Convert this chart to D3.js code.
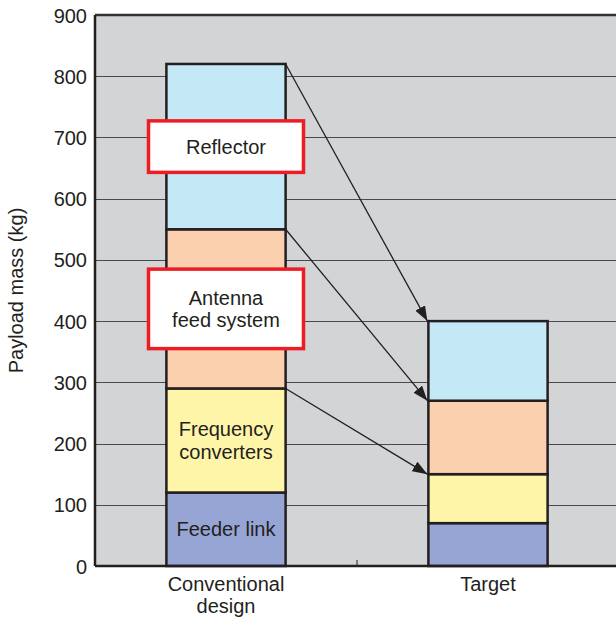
<!DOCTYPE html>
<html><head><meta charset="utf-8">
<script src="https://cdn.jsdelivr.net/npm/d3@7"></script>
<style>body{margin:0;background:#fff;}svg{display:block;font-family:"Liberation Sans",Arial,Helvetica,sans-serif;}</style>
</head><body>
<svg id="c" width="616" height="618"></svg>
<script>
const categories = ["Conventional design", "Target"];
const categoryLines = [["Conventional", "design"], ["Target"]];
const series = ["Feeder link", "Frequency converters", "Antenna feed system", "Reflector"];
const seriesLines = [["Feeder link"], ["Frequency", "converters"], ["Antenna", "feed system"], ["Reflector"]];
const conventionalValues = [120, 170, 260, 270];
const targetValues = [70, 80, 120, 130];
const seriesColors = ["#97a5d4", "#fff5a8", "#fbd0ae", "#c5e8f7"];
const boxedSeries = ["Antenna feed system", "Reflector"];
const yTicks = [0, 100, 200, 300, 400, 500, 600, 700, 800, 900];
const yLabel = "Payload mass (kg)";

const svg = d3.select("#c");
const m = {left: 95, top: 15, right: -3, bottom: 52};
const W = 616 - m.left - m.right, H = 618 - m.top - m.bottom;
const g = svg.append("g").attr("transform", `translate(${m.left},${m.top})`);

const x = d3.scaleBand().domain(categories).range([0, W]).padding(0);
const y = d3.scaleLinear().domain([0, 900]).range([H, 0]);
const barW = x.bandwidth() * 0.455;
const FS = 20;

g.append("rect").attr("x", 0).attr("y", 0).attr("width", W).attr("height", H).attr("fill", "#d3d4d6");
g.selectAll("line.grid").data(yTicks.filter(d => d > 0 && d < 900)).join("line")
  .attr("x1", 0).attr("x2", W).attr("y1", d => Math.round(y(d)) + 0.5).attr("y2", d => Math.round(y(d)) + 0.5)
  .attr("stroke", "#4a4a4a").attr("stroke-width", 1);
g.append("line").attr("x1", 0).attr("x2", W).attr("y1", 0).attr("y2", 0).attr("stroke", "#333").attr("stroke-width", 2.5);

const rows = categories.map((c, i) => {
  const o = {cat: c};
  series.forEach((s, j) => o[s] = (i === 0 ? conventionalValues : targetValues)[j]);
  return o;
});
const stack = d3.stack().keys(series)(rows);

const bx = c => x(c) + (x.bandwidth() - barW) / 2;
stack.forEach((layer, j) => {
  g.selectAll(null).data(layer).join("rect")
    .attr("x", d => bx(d.data.cat)).attr("width", barW)
    .attr("y", d => y(d[1])).attr("height", d => y(d[0]) - y(d[1]))
    .attr("fill", seriesColors[j]).attr("stroke", "#231f20").attr("stroke-width", 2.5);
});

const defs = svg.append("defs");
defs.append("marker").attr("id", "ah").attr("viewBox", "0 0 15 11").attr("refX", 15).attr("refY", 5.5)
  .attr("markerWidth", 15).attr("markerHeight", 11).attr("markerUnits", "userSpaceOnUse").attr("orient", "auto")
  .append("path").attr("d", "M0,0 L15,5.5 L0,11 Z").attr("fill", "#231f20");
[1, 2, 3].forEach(j => {
  const a = stack[j][0], b = stack[j][1];
  g.append("line")
    .attr("x1", bx(a.data.cat) + barW).attr("y1", y(a[1]))
    .attr("x2", bx(b.data.cat) - 1).attr("y2", y(b[1]))
    .attr("stroke", "#231f20").attr("stroke-width", 1.3).attr("marker-end", "url(#ah)");
});

const conv = categories[0];
const cx = x(conv) + x.bandwidth() / 2;
stack.forEach((layer, j) => {
  const d = layer[0];
  const mid = y((d[0] + d[1]) / 2);
  const lines = seriesLines[j];
  const lh = 22.5;
  if (boxedSeries.includes(series[j])) {
    const bh = lines.length === 1 ? 51.5 : 79.5;
    g.append("rect").attr("x", cx - 77.5).attr("y", mid - bh / 2).attr("width", 155).attr("height", bh)
      .attr("fill", "#fff").attr("stroke", "#ee1c25").attr("stroke-width", 3.5);
  }
  const t = g.append("text").attr("text-anchor", "middle").attr("font-size", FS).attr("fill", "#231f20");
  lines.forEach((ln, k) => {
    t.append("tspan").attr("x", cx).attr("y", mid + (k - (lines.length - 1) / 2) * lh + 7).text(ln);
  });
});

g.append("line").attr("x1", 0).attr("x2", 0).attr("y1", 0).attr("y2", H).attr("stroke", "#231f20").attr("stroke-width", 2.5);
g.append("line").attr("x1", 0).attr("x2", W).attr("y1", H).attr("y2", H).attr("stroke", "#231f20").attr("stroke-width", 2.5);
g.append("line").attr("x1", x(categories[1])).attr("x2", x(categories[1])).attr("y1", H).attr("y2", H - 6).attr("stroke", "#231f20").attr("stroke-width", 1);

g.selectAll("text.yt").data(yTicks).join("text").attr("class", "yt")
  .attr("x", -8).attr("y", d => y(d) + 7.5).attr("text-anchor", "end").attr("font-size", 20).attr("fill", "#231f20").text(d => d);

categories.forEach((c, i) => {
  const t = g.append("text").attr("text-anchor", "middle").attr("font-size", FS).attr("fill", "#231f20");
  categoryLines[i].forEach((ln, k) => t.append("tspan").attr("x", x(c) + x.bandwidth() / 2).attr("y", H + 25 + k * 21.5).text(ln));
});

svg.append("text").attr("transform", `translate(23,${m.top + H / 2}) rotate(-90)`).attr("text-anchor", "middle")
  .attr("font-size", FS).attr("fill", "#231f20").text(yLabel);
</script>
</body></html>
